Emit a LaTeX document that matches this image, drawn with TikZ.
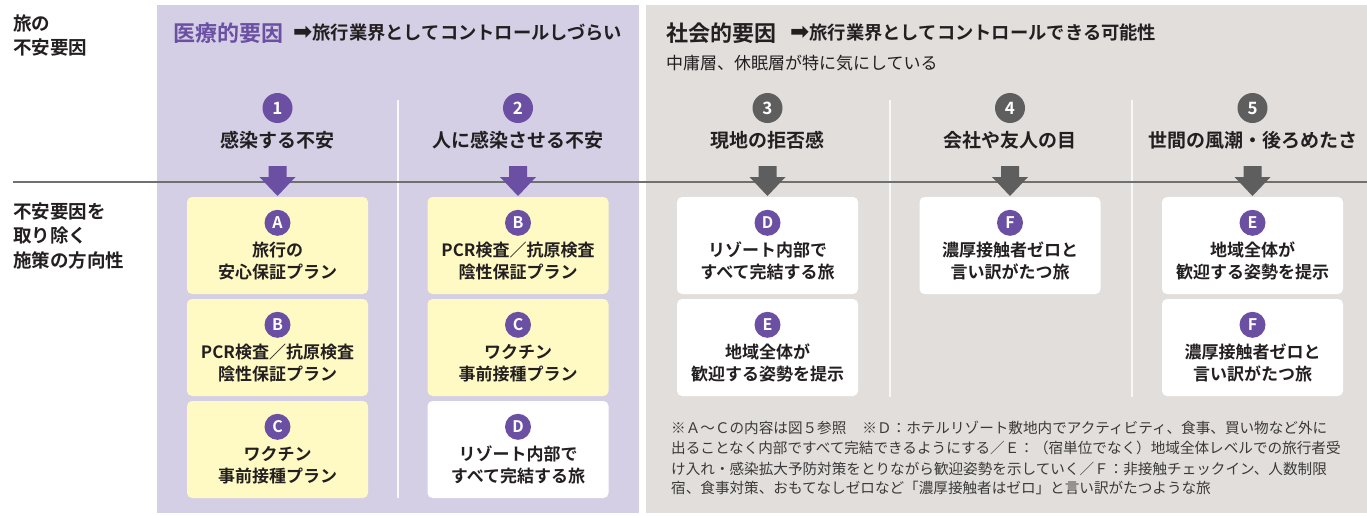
\documentclass[tikz,border=0pt]{standalone}
\usepackage{fontspec}
\setmainfont{Noto Sans CJK JP}[BoldFont={Noto Sans CJK JP Bold}]
\newfontfamily\dejavu{DejaVu Sans}[BoldFont={DejaVu Sans Bold}]
\usetikzlibrary{calc}
\definecolor{pbg}{HTML}{D5CFE6}
\definecolor{gbg}{HTML}{E2DEDB}
\definecolor{pur}{HTML}{6A4FA3}
\definecolor{dgr}{HTML}{5E5E5E}
\definecolor{ylw}{HTML}{FFF9C4}
\definecolor{txt}{HTML}{231F20}
\definecolor{ftxt}{HTML}{3A3A3A}
\definecolor{hln}{HTML}{707070}
\tikzset{
  numc/.style={circle, minimum size=30pt, inner sep=0pt, text=white, font=\bfseries\fontsize{17}{17}\selectfont},
  letc/.style={circle, fill=pur, minimum size=26pt, inner sep=0pt, text=white, font=\bfseries\fontsize{16}{16}\selectfont},
  collab/.style={text=txt, inner sep=0pt, font=\bfseries\fontsize{19}{19}\selectfont},
  plan/.style={rectangle, rounded corners=5pt, minimum width=181pt, minimum height=97pt, inner sep=0pt},
  plantext/.style={align=center, text=txt, inner sep=0pt, font=\bfseries\fontsize{17}{22}\selectfont},
  sidelab/.style={anchor=west, align=left, text=txt, inner sep=0pt, font=\bfseries\fontsize{18.5}{24.5}\selectfont},
  head/.style={anchor=west, inner sep=0pt, text=txt, font=\bfseries\fontsize{18.3}{18.3}\selectfont},
  headbig/.style={anchor=west, inner sep=0pt, font=\bfseries\fontsize{22}{22}\selectfont},
  foot/.style={anchor=west, inner sep=0pt, text=ftxt, font=\fontsize{14.6}{14.6}\selectfont},
  divider/.style={draw=white!85!pbg, line width=2pt},
  hline/.style={draw=hln, line width=2pt},
}
\newcommand\harrowglyph{{\dejavu\bfseries\fontsize{23}{23}\selectfont ➡}}
\newcommand\dnarrow[2]{%
  \fill[#2] (#1) ++(-9,0) -- ++(18,0) -- ++(0,11) -- ++(9,0) -- ++(-18,19) -- ++(-18,-19) -- ++(9,0) -- cycle;}
\newcommand\planbox[5]{% name, position, fill, letter, text
  \node[plan, fill=#3] (#1) at (#2) {};
  \node[letc] (#1l) at ([yshift=-26pt]#1.north) {#4};
  \node[plantext] (#1t) at ([yshift=-15.5pt]#1.center) {#5};}
\begin{document}
\begin{tikzpicture}[x=1pt,y=-1pt]
\useasboundingbox (0,0) rectangle (1367,515);
\fill[white] (0,0) rectangle (1367,515);
% panels
\fill[pbg] (157,5) rectangle (639,513);
\fill[gbg] (646,5) rectangle (1367,513);
% dividers
\draw[divider] (397.5,100) -- (397.5,498);
\draw[divider, draw=white!80!gbg] (890,100) -- (890,397);
\draw[divider, draw=white!80!gbg] (1132,100) -- (1132,397);
% left labels
\node[sidelab] (s1) at (13,35.5) {旅の\\不安要因};
\node[sidelab] (s2) at (13,236) {不安要因を\\取り除く\\施策の方向性};
% headers
\node[headbig, text=pur] (h1) at (173,33) {医療的要因};
\node[head] (h1b) at (293,33) {\harrowglyph 旅行業界としてコントロールしづらい};
\node[headbig, text=txt] (h2) at (666,33) {社会的要因};
\node[head] (h2b) at (790,33) {\harrowglyph 旅行業界としてコントロールできる可能性};
\node[anchor=west, inner sep=0pt, text=txt, font=\fontsize{17}{17}\selectfont] (h2s) at (666,63) {中庸層、休眠層が特に気にしている};
% horizontal line
\coordinate (hlA) at (13,182);
\coordinate (hlB) at (1367,182);
\draw[hline] (hlA) -- (hlB);
% numbers and labels
\node[numc, fill=pur] (n1) at (277.5,108) {1};
\node[numc, fill=pur] (n2) at (518,108) {2};
\node[numc, fill=dgr] (n3) at (767.5,108) {3};
\node[numc, fill=dgr] (n4) at (1010,108) {4};
\node[numc, fill=dgr] (n5) at (1252.5,108) {5};
\node[collab] (l1) at (277.5,140) {感染する不安};
\node[collab] (l2) at (518,140) {人に感染させる不安};
\node[collab] (l3) at (767.5,140) {現地の拒否感};
\node[collab] (l4) at (1010,140) {会社や友人の目};
\node[collab] (l5) at (1252.5,140) {世間の風潮・後ろめたさ};
% arrows
\coordinate (a1) at (277.5,166);
\coordinate (a2) at (518,166);
\coordinate (a3) at (767.5,166);
\coordinate (a4) at (1010,166);
\coordinate (a5) at (1252.5,166);
\dnarrow{a1}{pur}
\dnarrow{a2}{pur}
\dnarrow{a3}{dgr}
\dnarrow{a4}{dgr}
\dnarrow{a5}{dgr}
% plan boxes
\planbox{b11}{277.5,245.5}{ylw}{A}{旅行の\\安心保証プラン}
\planbox{b12}{277.5,347.5}{ylw}{B}{PCR検査／抗原検査\\陰性保証プラン}
\planbox{b13}{277.5,449.5}{ylw}{C}{ワクチン\\事前接種プラン}
\planbox{b21}{518,245.5}{ylw}{B}{PCR検査／抗原検査\\陰性保証プラン}
\planbox{b22}{518,347.5}{ylw}{C}{ワクチン\\事前接種プラン}
\planbox{b23}{518,449.5}{white}{D}{リゾート内部で\\すべて完結する旅}
\planbox{b31}{767.5,245.5}{white}{D}{リゾート内部で\\すべて完結する旅}
\planbox{b32}{767.5,347.5}{white}{E}{地域全体が\\歓迎する姿勢を提示}
\planbox{b41}{1010,245.5}{white}{F}{濃厚接触者ゼロと\\言い訳がたつ旅}
\planbox{b51}{1252.5,245.5}{white}{E}{地域全体が\\歓迎する姿勢を提示}
\planbox{b52}{1252.5,347.5}{white}{F}{濃厚接触者ゼロと\\言い訳がたつ旅}
% footnote
\node[foot] (f1) at (671,428) {※Ａ〜Ｃの内容は図５参照\hspace{1.1em}※Ｄ：ホテルリゾート敷地内でアクティビティ、食事、買い物など外に};
\node[foot] (f2) at (671,448) {出ることなく内部ですべて完結できるようにする／Ｅ：（宿単位でなく）地域全体レベルでの旅行者受};
\node[foot] (f3) at (671,468.5) {け入れ・感染拡大予防対策をとりながら歓迎姿勢を示していく／Ｆ：非接触チェックイン、人数制限};
\node[foot] (f4) at (671,488) {宿、食事対策、おもてなしゼロなど「濃厚接触者はゼロ」と言い訳がたつような旅};
\end{tikzpicture}
\end{document}
